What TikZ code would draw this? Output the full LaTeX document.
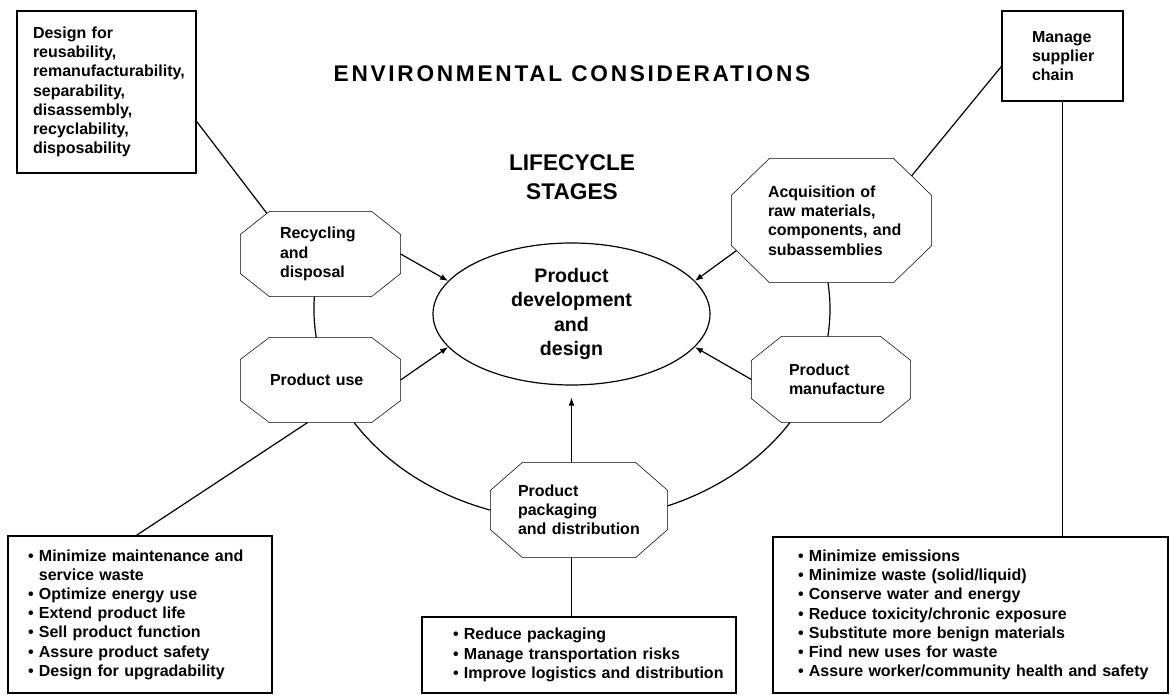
\documentclass[tikz,border=0pt]{standalone}
\usepackage{fontspec}
\setmainfont{Liberation Sans}
\newfontfamily\spacedfont[LetterSpace=12]{Liberation Sans}
\usetikzlibrary{arrows.meta,calc,shapes.geometric,backgrounds}
\newcommand\labfont{\bfseries\fontsize{12}{14.4}\selectfont}
\newcommand\octpath[3]{%
  \filldraw[fill=white] ($(#1.north west)+(#2,0)$) -- ($(#1.north east)+(-#2,0)$)
   -- ($(#1.north east)+(0,#3)$) -- ($(#1.south east)+(0,-#3)$)
   -- ($(#1.south east)+(-#2,0)$) -- ($(#1.south west)+(#2,0)$)
   -- ($(#1.south west)+(0,-#3)$) -- ($(#1.north west)+(0,#3)$) -- cycle;}
\begin{document}
\begin{tikzpicture}[x=0.75pt,y=-0.75pt,line width=0.9pt,
  bx/.style n args={3}{draw,fill=white,rectangle,inner sep=0pt,align=left,font=\labfont,
     text width=#1,minimum height=#2,execute at begin node={\leftskip=#3}},
  oct/.style n args={3}{rectangle,inner sep=0pt,align=left,font=\labfont,
     text width=#1,minimum height=#2,execute at begin node={\leftskip=#3}},
  arr/.style={-{Latex[length=6pt,width=4.5pt]}}]
\useasboundingbox (0,0) rectangle (1172,695);

% titles
\node[font={\spacedfont\bfseries\fontsize{17}{20}\selectfont}] (ttl) at (572,74) {ENVIRONMENTAL CONSIDERATIONS};
\node[align=center,font={\bfseries\fontsize{17}{21.75}\selectfont}] (lcs) at (572,177.5) {LIFECYCLE\\STAGES};

% boxes
\node[bx={134.25pt}{121.5pt}{12pt}] (dfr) at (106.5,92)
  {Design for\\reusability,\\remanufacturability,\\separability,\\disassembly,\\recyclability,\\disposability};
\node[bx={90.75pt}{67.5pt}{22.5pt}] (msc) at (1062.5,56) {Manage\\supplier\\chain};
\node[bx={198pt}{117.75pt}{15pt}] (ubx) at (140,614.5)
  {\textbullet\ Minimize maintenance and\\\hphantom{\textbullet\ }service waste\\\textbullet\ Optimize energy use\\\textbullet\ Extend product life\\\textbullet\ Sell product function\\\textbullet\ Assure product safety\\\textbullet\ Design for upgradability};
\node[bx={235.5pt}{57pt}{23.25pt}] (pbx) at (579,655)
  {\textbullet\ Reduce packaging\\\textbullet\ Manage transportation risks\\\textbullet\ Improve logistics and distribution};
\node[bx={296.25pt}{117pt}{18.75pt}] (mbx) at (970.5,615)
  {\textbullet\ Minimize emissions\\\textbullet\ Minimize waste (solid/liquid)\\\textbullet\ Conserve water and energy\\\textbullet\ Reduce toxicity/chronic exposure\\\textbullet\ Substitute more benign materials\\\textbullet\ Find new uses for waste\\\textbullet\ Assure worker/community health and safety};

% lifecycle stages (octagons)
\node[oct={119.25pt}{63pt}{29.25pt}] (rec) at (320.5,254) {Recycling\\and\\disposal};
\node[oct={119.25pt}{63pt}{21.75pt}] (use) at (320.5,380) {Product use};
\node[oct={149.25pt}{92.25pt}{27pt}] (acq) at (831.5,220.5) {Acquisition of\\raw materials,\\components, and\\subassemblies};
\node[oct={118.5pt}{63.75pt}{27.75pt}] (man) at (831,379.5) {Product\\manufacture};
\node[oct={132pt}{70.5pt}{20.25pt}] (pkg) at (579,510) {Product\\packaging\\and distribution};

% centre ellipse
\node[ellipse,draw,inner sep=0pt,minimum width=207.75pt,minimum height=106.5pt,align=center,
      font={\bfseries\fontsize{14.7}{18.2}\selectfont}] (pdd) at (571.5,314) {Product\\development\\and\\design};

\begin{scope}[on background layer,line width=0.9pt]
  \coordinate (ringc) at (572,309);
  \draw[line width=0.9pt] ([shift={(165:193.5pt and 159pt)}]ringc) arc[start angle=165,end angle=384.7,x radius=193.5pt,y radius=159pt];
  \octpath{rec}{29}{23}
  \octpath{use}{29}{22}
  \octpath{acq}{38}{37}
  \octpath{man}{30}{24}
  \octpath{pkg}{32}{28}
\end{scope}

% connectors
\draw ($(dfr.north east)+(0,111)$) -- ($(rec.north west)+(26.5,2)$);
\draw ($(msc.north west)+(0,56)$) -- ($(acq.north east)+(-20,17.5)$);
\draw (msc.south) -- (msc.south |- mbx.north);
\draw[arr] (rec.east) -- (pdd.165);
\draw[arr] (use.east) -- (pdd.195);
\draw[arr] ($(acq.south west)+(5,-32)$) -- (pdd.15);
\draw[arr] (man.west) -- (pdd.-15);
\draw[arr] (pkg.north -| pdd.south) -- ($(pdd.south)+(0,12)$);
\draw (pkg.south -| pdd.south) -- (pbx.north -| pdd.south);
\draw ($(use.south)+(-13,0)$) -- ($(ubx.north west)+(129,0)$);
\end{tikzpicture}
\end{document}
